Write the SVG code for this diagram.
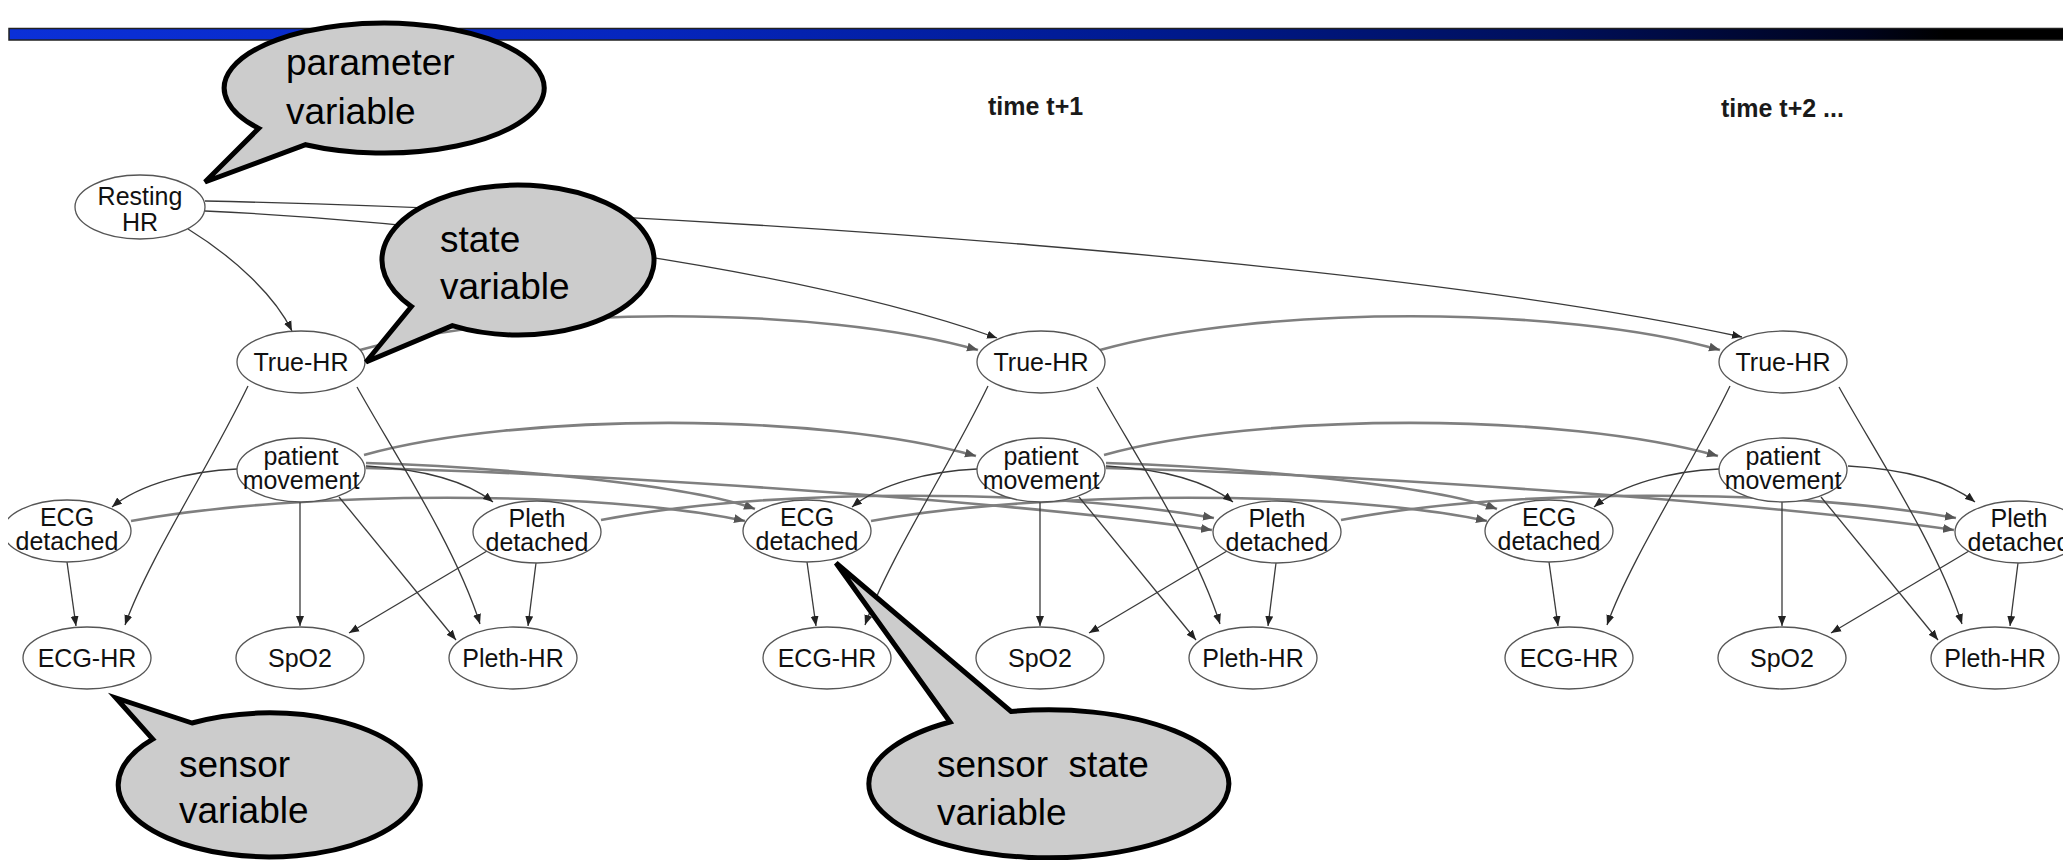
<svg xmlns="http://www.w3.org/2000/svg" width="2063" height="860" viewBox="0 0 2063 860">
<style>
.nd ellipse{fill:#fff;stroke:#555;stroke-width:1.3}
.nd text{font-family:"Liberation Sans",Arial,sans-serif;font-size:25px;fill:#111;text-anchor:middle}
.ek{fill:none;stroke:#3a3a3a;stroke-width:1.3;marker-end:url(#ak)}
.eg{fill:none;stroke:#7f7f7f;stroke-width:2.6;marker-end:url(#ag)}
.co path{fill:#cccccc;stroke:#000;stroke-width:5;stroke-linejoin:miter}
.co text{font-family:"Liberation Sans",Arial,sans-serif;font-size:37px;fill:#000}
.tl{font-family:"Liberation Sans",Arial,sans-serif;font-size:25px;font-weight:bold;fill:#1a1a1a}
</style>
<defs>
<linearGradient id="bar" x1="0" y1="0" x2="1" y2="0">
<stop offset="0" stop-color="#0b30d8"/>
<stop offset="0.3" stop-color="#0626bf"/>
<stop offset="0.55" stop-color="#001a90"/>
<stop offset="0.75" stop-color="#000f5a"/>
<stop offset="0.9" stop-color="#00031c"/>
<stop offset="0.94" stop-color="#000"/>
</linearGradient>
<marker id="ak" markerUnits="userSpaceOnUse" markerWidth="11" markerHeight="9" refX="10" refY="4.5" orient="auto" viewBox="0 0 11 9"><path d="M0,0.5 L10,4.5 L0,8.5 Z" fill="#222"/></marker>
<marker id="ag" markerUnits="userSpaceOnUse" markerWidth="12" markerHeight="10" refX="11" refY="5" orient="auto" viewBox="0 0 12 10"><path d="M0,0.5 L11,5 L0,9.5 Z" fill="#555"/></marker>
<clipPath id="gclip"><rect x="8" y="0" width="2055" height="860"/></clipPath>
</defs>
<rect width="2063" height="860" fill="#fff"/>
<rect id="titlebar" x="9" y="28.5" width="2060" height="11.5" fill="url(#bar)" stroke="#222" stroke-width="1.5"/>

<text class="tl" x="988" y="115">time t+1</text>
<text class="tl" x="1721" y="117">time t+2 ...</text>

<g clip-path="url(#gclip)">
<g id="connectors">
<path class="ek" d="M188,229 C235,258 275,296 292,331"/>
<path class="ek" d="M205,211 C450,222 800,268 997,338"/>
<path class="ek" d="M205,201 C700,212 1400,262 1742,337"/>

<path class="eg" d="M360,350 C520,305 820,305 978,350"/>
<path class="eg" d="M1100,350 C1260,305 1562,305 1720,350"/>
<path class="eg" d="M364,455 C520,412 820,412 976,456"/>
<path class="eg" d="M1104,455 C1260,412 1562,412 1718,456"/>
<path class="eg" d="M366,463 C500,467 690,485 755,509"/>
<path class="eg" d="M1106,463 C1240,467 1432,485 1497,509"/>
<path class="eg" d="M366,468 C600,474 1002,500 1212,530"/>
<path class="eg" d="M1106,468 C1340,474 1744,500 1954,530"/>
<path class="eg" d="M131,521 C300,490 601,490 745,521"/>
<path class="eg" d="M871,521 C1040,490 1343,490 1487,521"/>
<path class="eg" d="M601,520 C770,488 1040,488 1214,518"/>
<path class="eg" d="M1341,520 C1510,488 1782,488 1956,518"/>

<path class="ek" d="M248,386 C210,465 148,560 125,625"/>
<path class="ek" d="M357,387 C392,450 455,545 480,624"/>
<path class="ek" d="M237,469 C190,471 140,484 112,507"/>
<path class="ek" d="M366,466 C420,469 465,480 493,502"/>
<path class="ek" d="M300,502 L300,626"/>
<path class="ek" d="M339,497 L456,640"/>
<path class="ek" d="M67,562 L76,626"/>
<path class="ek" d="M487,551 L349,633"/>
<path class="ek" d="M536,563 L528,626"/>

<path class="ek" d="M988,386 C950,465 888,560 865,625"/>
<path class="ek" d="M1097,387 C1132,450 1195,545 1220,624"/>
<path class="ek" d="M977,469 C930,471 880,484 852,507"/>
<path class="ek" d="M1106,466 C1160,469 1205,480 1233,502"/>
<path class="ek" d="M1040,502 L1040,626"/>
<path class="ek" d="M1079,497 L1196,640"/>
<path class="ek" d="M807,562 L816,626"/>
<path class="ek" d="M1227,551 L1089,633"/>
<path class="ek" d="M1276,563 L1268,626"/>

<path class="ek" d="M1730,386 C1692,465 1630,560 1607,625"/>
<path class="ek" d="M1839,387 C1874,450 1937,545 1962,624"/>
<path class="ek" d="M1719,469 C1672,471 1622,484 1594,507"/>
<path class="ek" d="M1848,466 C1902,469 1947,480 1975,502"/>
<path class="ek" d="M1782,502 L1782,626"/>
<path class="ek" d="M1821,497 L1938,640"/>
<path class="ek" d="M1549,562 L1558,626"/>
<path class="ek" d="M1969,551 L1831,633"/>
<path class="ek" d="M2018,563 L2010,626"/>
</g>

<g id="resting_hr" class="nd"><ellipse cx="140" cy="207" rx="65" ry="32"/><text x="140" y="205">Resting</text><text x="140" y="231">HR</text></g>

<g id="true_hr_t" class="nd"><ellipse cx="301" cy="362" rx="64" ry="31"/><text x="301" y="371">True-HR</text></g>
<g id="patient_movement_t" class="nd"><ellipse cx="301" cy="470" rx="64" ry="32"/><text x="301" y="465">patient</text><text x="301" y="489">movement</text></g>
<g id="ecg_detached_t" class="nd"><ellipse cx="67" cy="531" rx="64" ry="31"/><text x="67" y="526">ECG</text><text x="67" y="550">detached</text></g>
<g id="pleth_detached_t" class="nd"><ellipse cx="537" cy="532" rx="64" ry="31"/><text x="537" y="527">Pleth</text><text x="537" y="551">detached</text></g>
<g id="ecg_hr_t" class="nd"><ellipse cx="87" cy="658" rx="64" ry="31"/><text x="87" y="667">ECG-HR</text></g>
<g id="spo2_t" class="nd"><ellipse cx="300" cy="658" rx="64" ry="31"/><text x="300" y="667">SpO2</text></g>
<g id="pleth_hr_t" class="nd"><ellipse cx="513" cy="658" rx="64" ry="31"/><text x="513" y="667">Pleth-HR</text></g>

<g id="true_hr_t1" class="nd"><ellipse cx="1041" cy="362" rx="64" ry="31"/><text x="1041" y="371">True-HR</text></g>
<g id="patient_movement_t1" class="nd"><ellipse cx="1041" cy="470" rx="64" ry="32"/><text x="1041" y="465">patient</text><text x="1041" y="489">movement</text></g>
<g id="ecg_detached_t1" class="nd"><ellipse cx="807" cy="531" rx="64" ry="31"/><text x="807" y="526">ECG</text><text x="807" y="550">detached</text></g>
<g id="pleth_detached_t1" class="nd"><ellipse cx="1277" cy="532" rx="64" ry="31"/><text x="1277" y="527">Pleth</text><text x="1277" y="551">detached</text></g>
<g id="ecg_hr_t1" class="nd"><ellipse cx="827" cy="658" rx="64" ry="31"/><text x="827" y="667">ECG-HR</text></g>
<g id="spo2_t1" class="nd"><ellipse cx="1040" cy="658" rx="64" ry="31"/><text x="1040" y="667">SpO2</text></g>
<g id="pleth_hr_t1" class="nd"><ellipse cx="1253" cy="658" rx="64" ry="31"/><text x="1253" y="667">Pleth-HR</text></g>

<g id="true_hr_t2" class="nd"><ellipse cx="1783" cy="362" rx="64" ry="31"/><text x="1783" y="371">True-HR</text></g>
<g id="patient_movement_t2" class="nd"><ellipse cx="1783" cy="470" rx="64" ry="32"/><text x="1783" y="465">patient</text><text x="1783" y="489">movement</text></g>
<g id="ecg_detached_t2" class="nd"><ellipse cx="1549" cy="531" rx="64" ry="31"/><text x="1549" y="526">ECG</text><text x="1549" y="550">detached</text></g>
<g id="pleth_detached_t2" class="nd"><ellipse cx="2019" cy="532" rx="64" ry="31"/><text x="2019" y="527">Pleth</text><text x="2019" y="551">detached</text></g>
<g id="ecg_hr_t2" class="nd"><ellipse cx="1569" cy="658" rx="64" ry="31"/><text x="1569" y="667">ECG-HR</text></g>
<g id="spo2_t2" class="nd"><ellipse cx="1782" cy="658" rx="64" ry="31"/><text x="1782" y="667">SpO2</text></g>
<g id="pleth_hr_t2" class="nd"><ellipse cx="1995" cy="658" rx="64" ry="31"/><text x="1995" y="667">Pleth-HR</text></g>
</g>

<g id="callout_parameter" class="co">
<path d="M305.6,144.7 A160,65 0 1 0 258.7,128.4 L205,182 Z"/>
<text x="286" y="75">parameter</text><text x="286" y="124">variable</text>
</g>
<g id="callout_state" class="co">
<path d="M452.3,325.7 A136,75 0 1 0 411.4,306.6 L366,362 Z"/>
<text x="440" y="252">state</text><text x="440" y="299">variable</text>
</g>
<g id="callout_sensor" class="co">
<path d="M152.7,739.1 L116,698 L192,723 A151,72 0 1 1 152.7,739.1 Z"/>
<text x="179" y="777">sensor</text><text x="179" y="823">variable</text>
</g>
<g id="callout_sensor_state" class="co">
<path d="M950,722 L836,563 L1011,711.5 A180,74 0 1 1 950,722 Z"/>
<text x="937" y="777" xml:space="preserve">sensor  state</text><text x="937" y="825">variable</text>
</g>
</svg>
